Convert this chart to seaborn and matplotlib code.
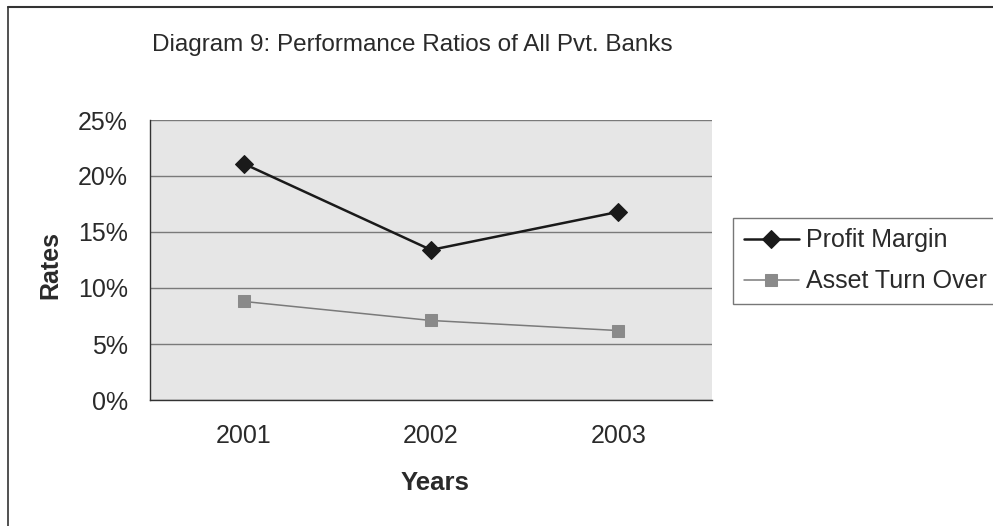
import matplotlib
matplotlib.use("Agg")
import matplotlib.pyplot as plt
from matplotlib.lines import Line2D
from matplotlib.ticker import FuncFormatter, FixedLocator
import seaborn as sns
import pandas as pd

years = ["2001", "2002", "2003"]
profit_margin = [21.1, 13.4, 16.8]
asset_turnover = [8.8, 7.1, 6.2]
series_names = ["Profit Margin", "Asset Turn Over"]
y_ticks = [0, 5, 10, 15, 20, 25]

sns.set_style("white")
plt.rcParams["font.family"] = ["Liberation Sans", "DejaVu Sans"]

fig = plt.figure(figsize=(9.93, 5.26), dpi=100)
ax = fig.add_axes([150/993, 1-400/526, 562/993, 280/526])
ax.set_facecolor("#e6e6e6")

x = list(range(len(years)))
df1 = pd.DataFrame({"x": x, "y": profit_margin})
df2 = pd.DataFrame({"x": x, "y": asset_turnover})
sns.lineplot(data=df1, x="x", y="y", ax=ax, color="#1a1a1a", lw=1.8,
             marker="D", markersize=9, markeredgecolor="#1a1a1a",
             label=series_names[0], zorder=4)
sns.lineplot(data=df2, x="x", y="y", ax=ax, color="#7a7a7a", lw=1.1,
             marker="s", markersize=8, markerfacecolor="#8a8a8a",
             markeredgecolor="#8a8a8a", label=series_names[1], zorder=4)

ax.set_xlim(-0.5, 2.5)
ax.set_ylim(0, 25)
ax.set_yticks(y_ticks)
ax.yaxis.set_major_formatter(FuncFormatter(lambda v, p: f"{int(v)}%"))
ax.set_xticks(x)
ax.set_xticklabels(years)
ax.xaxis.set_minor_locator(FixedLocator([-0.5, 0.5, 1.5, 2.5]))
ax.tick_params(axis="x", which="major", length=0, pad=17, labelsize=18, colors="#2a2a2a")
ax.tick_params(axis="x", which="minor", length=6, width=1, color="#333333", direction="out")
ax.tick_params(axis="y", which="major", length=5, width=1, color="#333333", direction="out",
               labelsize=18, labelcolor="#2a2a2a", pad=11)
ax.grid(axis="y", color="#7a7a7a", lw=1)
ax.set_axisbelow(True)
for s in ["top", "right"]:
    ax.spines[s].set_visible(False)
for s in ["left", "bottom"]:
    ax.spines[s].set_color("#333333")
    ax.spines[s].set_linewidth(1)

ax.set_xlabel("")
ax.set_ylabel("")
fig.text(435/993, 1-483/526, "Years", ha="center", va="center",
         fontsize=18.5, fontweight="bold", color="#2a2a2a")
fig.text(50/993, 1-265/526, "Rates", ha="center", va="center", rotation=90,
         fontsize=18, fontweight="bold", color="#2a2a2a")

fig.text(412/993, 1-45/526, "Diagram 9: Performance Ratios of All Pvt. Banks",
         ha="center", va="center", fontsize=17.5, color="#2a2a2a")

ax.get_legend().remove()
handles, labels = ax.get_legend_handles_labels()
leg = fig.legend(handles, labels, loc="upper left", bbox_to_anchor=(733/993, 1-218/526),
                 fontsize=18, frameon=True, fancybox=False, edgecolor="#555555",
                 handlelength=2.2, borderpad=0.42, labelspacing=0.68, handletextpad=0.3,
                 borderaxespad=0)
leg.get_frame().set_linewidth(1)
for t in leg.get_texts():
    t.set_color("#2a2a2a")

fig.add_artist(Line2D([8/993, 8/993], [0, 1-7/526], transform=fig.transFigure,
                      color="#333333", lw=1.2))
fig.add_artist(Line2D([8/993, 1], [1-7/526, 1-7/526], transform=fig.transFigure,
                      color="#333333", lw=1.5))

fig.savefig("out.png", dpi=100)
